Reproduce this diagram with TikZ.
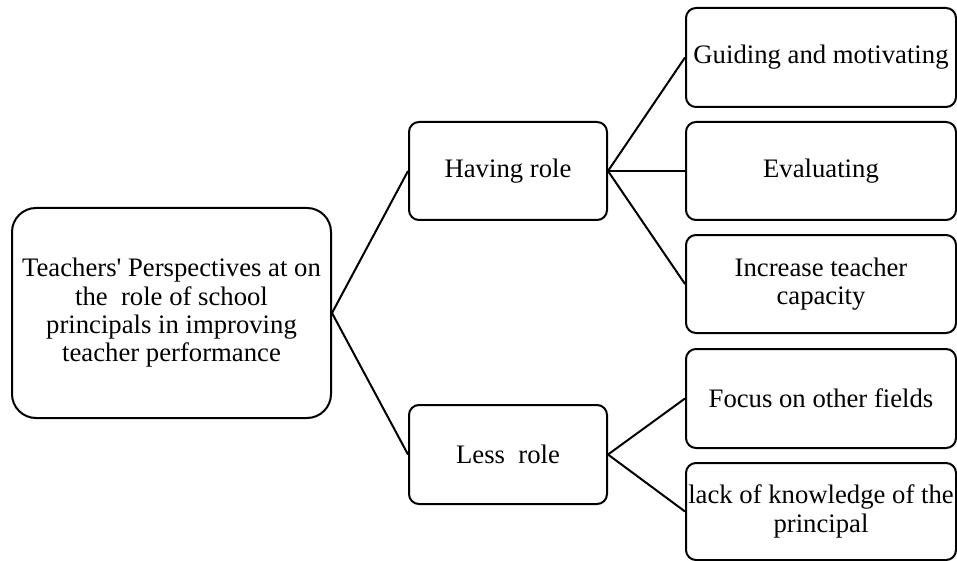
\documentclass[tikz,border=0pt]{standalone}
\usepackage{fontspec}
\setmainfont{Liberation Serif}
\begin{document}
\begin{tikzpicture}[x=1pt,y=-1pt,
  box/.style={draw=black, line width=2pt, rounded corners=10pt, align=center,
    inner sep=0pt, font=\fontsize{26.7}{28.3}\selectfont},
  link/.style={draw=black, line width=2pt}]
\useasboundingbox (0,0) rectangle (957,561);
\node[box, rounded corners=24pt, minimum width=319pt, minimum height=210pt] (root) at (171.5,313)
  {Teachers\textquotesingle\ Perspectives at on\\the\ \ role of school\\principals in improving\\teacher performance};
\node[box, minimum width=198pt, minimum height=98pt] (having) at (508,171) {Having role};
\node[box, minimum width=198pt, minimum height=99pt] (less) at (508,454.5) {Less\ \ role};
\node[box, minimum width=270pt, minimum height=99pt] (guide) at (821,57.5) {Guiding and motivating};
\node[box, minimum width=270pt, minimum height=98pt] (eval) at (821,171) {Evaluating};
\node[box, minimum width=270pt, minimum height=98pt] (incr) at (821,284) {Increase teacher\\capacity};
\node[box, minimum width=270pt, minimum height=99pt] (focus) at (821,398.5) {Focus on other fields};
\node[box, minimum width=270pt, minimum height=97pt] (lack) at (821,511.5) {lack of knowledge of the\\principal};
\draw[link] (root.east) -- (having.west);
\draw[link] (root.east) -- (less.west);
\draw[link] (having.east) -- (guide.west);
\draw[link] (having.east) -- (eval.west);
\draw[link] (having.east) -- (incr.west);
\draw[link] (less.east) -- (focus.west);
\draw[link] (less.east) -- (lack.west);
\end{tikzpicture}
\end{document}
